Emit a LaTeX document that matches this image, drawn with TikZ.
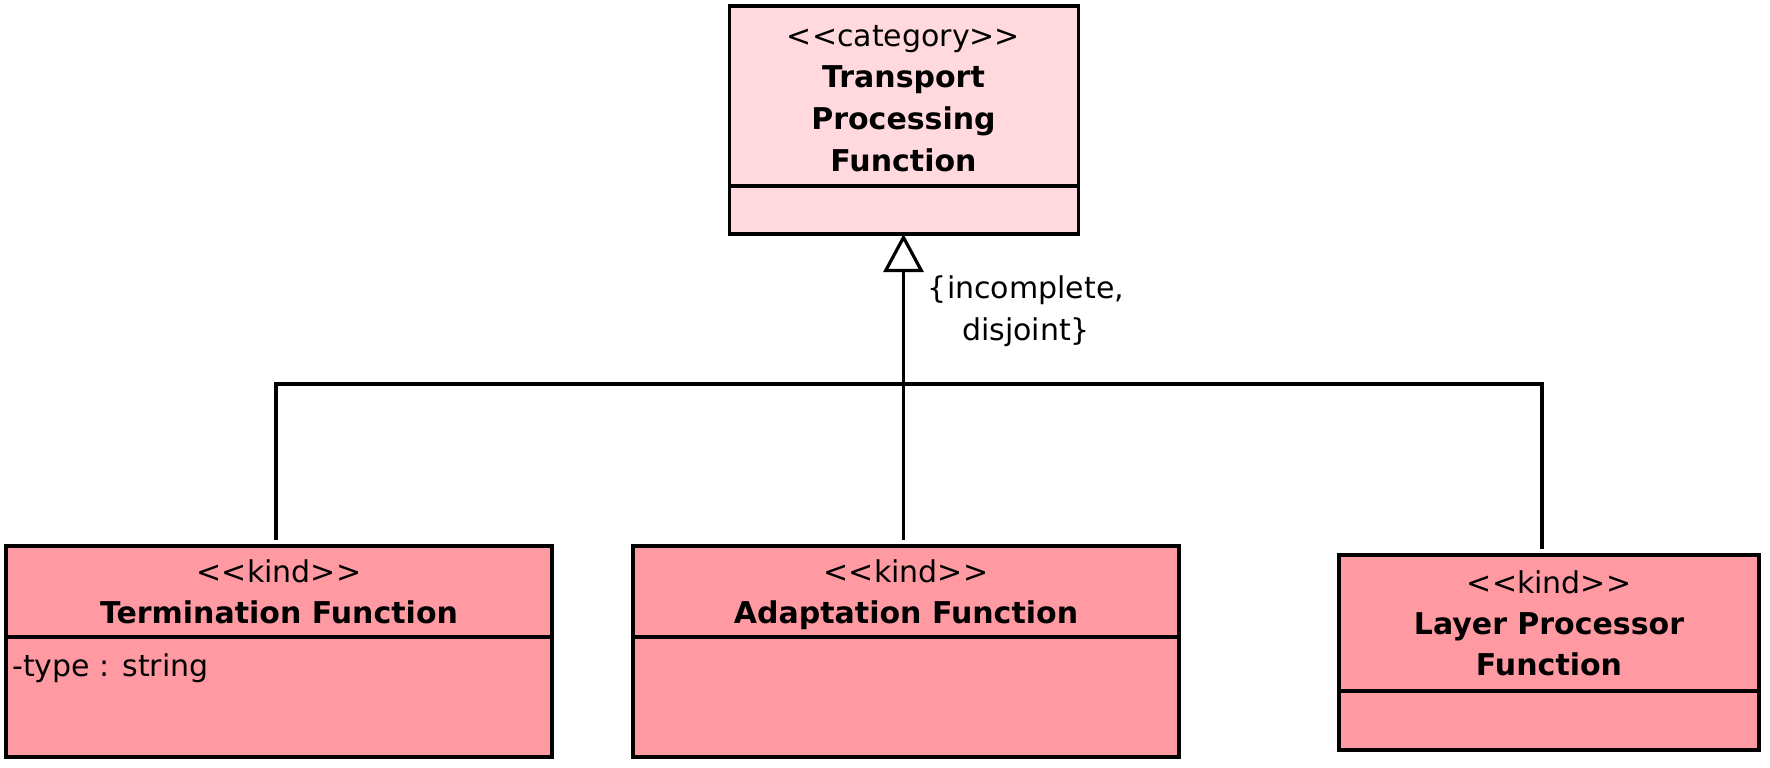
\documentclass[tikz,border=0pt]{standalone}
\usepackage{fontspec}
\setmainfont{DejaVu Sans}
\usetikzlibrary{arrows.meta}
\definecolor{catfill}{RGB}{255,217,221}
\definecolor{kindfill}{RGB}{255,154,163}
\newcommand\stlt{<\kern0pt<}
\newcommand\stgt{>\kern0pt>}
\tikzset{
  cls/.style={draw=black, line width=3.2pt, inner sep=0pt, outer sep=0pt, anchor=north west},
  catbox/.style={cls, fill=catfill},
  kindbox/.style={cls, fill=kindfill},
  sep/.style={line width=3.2pt},
  txt/.style={inner sep=0pt, anchor=base, font=\fontsize{30}{41}\selectfont},
  btxt/.style={txt, font=\fontsize{30}{41}\selectfont\bfseries},
  attr/.style={inner sep=0pt, anchor=base west, font=\fontsize{30}{41}\selectfont},
  conn/.style={line width=3.2pt, line join=miter},
  gen/.style={conn, -{Triangle[open, length=38pt, width=40pt, fill=white, line join=miter]}}
}
\begin{document}
\begin{tikzpicture}[x=1pt, y=-1pt]
\useasboundingbox (0,0) rectangle (1770,768);
% top category box
\node[catbox, minimum width=349pt, minimum height=228pt] (tpf) at (729.5,6) {};
\draw[sep] (tpf.west |- 0,186) -- (tpf.east |- 0,186);
\node[txt]  (tpf1) at (903.5,46.5) {\stlt category\stgt};
\node[btxt] (tpf2) at (903.5,88) {Transport};
\node[btxt] (tpf3) at (903.5,129.5) {Processing};
\node[btxt] (tpf4) at (903.5,171) {Function};
% termination
\node[kindbox, minimum width=546pt, minimum height=211pt] (term) at (6,546) {};
\draw[sep] (term.west |- 0,637) -- (term.east |- 0,637);
\node[txt]  (term1) at (279,582) {\stlt kind\stgt};
\node[btxt] (term2) at (279,623) {Termination Function};
\node[attr] (termA) at (12,676) {-type : string};
% adaptation
\node[kindbox, minimum width=546pt, minimum height=211pt] (adapt) at (633,546) {};
\draw[sep] (adapt.west |- 0,637) -- (adapt.east |- 0,637);
\node[txt]  (adapt1) at (906,582) {\stlt kind\stgt};
\node[btxt] (adapt2) at (906,623) {Adaptation Function};
% layer processor
\node[kindbox, minimum width=420pt, minimum height=195pt] (lpf) at (1339,555) {};
\draw[sep] (lpf.west |- 0,691) -- (lpf.east |- 0,691);
\node[txt]  (lpf1) at (1549,593) {\stlt kind\stgt};
\node[btxt] (lpf2) at (1549,634) {Layer Processor};
\node[btxt] (lpf3) at (1549,675) {Function};
% generalization set
\coordinate (cL) at (276,540);
\coordinate (cM) at (903.5,540);
\coordinate (cR) at (1542,549);
\coordinate (busL) at (276,384);
\coordinate (busR) at (1542,384);
\draw[conn] (cL) -- (busL) -- (busR) -- (cR);
\draw[gen] (cM) -- (cM |- tpf.south);
\node[txt] (gs1) at (1026,298) {\{incomplete,};
\node[txt] (gs2) at (1026,340) {disjoint\}};
\end{tikzpicture}
\end{document}
